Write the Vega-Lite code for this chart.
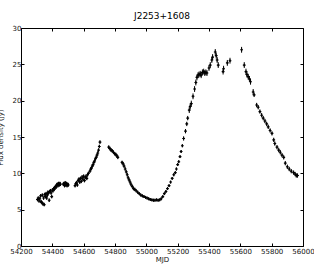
{
  "$schema": "https://vega.github.io/schema/vega-lite/v6.json",
  "autosize": "none",
  "width": 282,
  "height": 218,
  "padding": {"left": 21, "top": 28, "right": 11, "bottom": 28},
  "background": "white",
  "title": {"text": "J2253+1608", "fontSize": 9, "font": "DejaVu Sans", "fontWeight": "normal", "color": "black", "offset": 3},
  "config": {
    "view": {"stroke": "black", "strokeWidth": 1},
    "axis": {"labelFont": "DejaVu Sans", "labelFontSize": 7, "labelColor": "#111", "titleFont": "DejaVu Sans", "titleFontSize": 7, "titleFontWeight": "normal", "titleColor": "#111", "tickColor": "black", "tickSize": -3, "domain": false, "grid": false, "labelOverlap": false, "labelFlush": false, "labelBound": false, "format": "d"}
  },
  "data": {"values": [
    {"mjd": 54305, "flux": 6.4, "err": 0.25}, {"mjd": 54310, "flux": 6.6, "err": 0.25}, {"mjd": 54315, "flux": 6.2, "err": 0.25}, {"mjd": 54320, "flux": 6.5, "err": 0.25},
    {"mjd": 54325, "flux": 6.9, "err": 0.25}, {"mjd": 54328, "flux": 6.1, "err": 0.25}, {"mjd": 54332, "flux": 6.0, "err": 0.25}, {"mjd": 54336, "flux": 7.0, "err": 0.25},
    {"mjd": 54340, "flux": 5.8, "err": 0.25}, {"mjd": 54344, "flux": 6.6, "err": 0.25}, {"mjd": 54348, "flux": 5.7, "err": 0.25}, {"mjd": 54352, "flux": 7.1, "err": 0.25},
    {"mjd": 54356, "flux": 6.8, "err": 0.25}, {"mjd": 54360, "flux": 7.2, "err": 0.25}, {"mjd": 54364, "flux": 6.6, "err": 0.25}, {"mjd": 54368, "flux": 7.0, "err": 0.25},
    {"mjd": 54372, "flux": 7.4, "err": 0.25}, {"mjd": 54376, "flux": 7.3, "err": 0.25}, {"mjd": 54380, "flux": 6.3, "err": 0.25}, {"mjd": 54384, "flux": 7.5, "err": 0.25},
    {"mjd": 54388, "flux": 7.6, "err": 0.25}, {"mjd": 54392, "flux": 7.3, "err": 0.25}, {"mjd": 54396, "flux": 6.8, "err": 0.25}, {"mjd": 54400, "flux": 7.7, "err": 0.25},
    {"mjd": 54404, "flux": 7.6, "err": 0.25}, {"mjd": 54408, "flux": 7.9, "err": 0.25}, {"mjd": 54412, "flux": 7.8, "err": 0.25}, {"mjd": 54416, "flux": 8.0, "err": 0.25},
    {"mjd": 54420, "flux": 8.2, "err": 0.25}, {"mjd": 54424, "flux": 8.1, "err": 0.25}, {"mjd": 54428, "flux": 8.4, "err": 0.25}, {"mjd": 54432, "flux": 8.5, "err": 0.25},
    {"mjd": 54436, "flux": 8.3, "err": 0.25}, {"mjd": 54440, "flux": 8.6, "err": 0.25}, {"mjd": 54444, "flux": 8.4, "err": 0.25}, {"mjd": 54448, "flux": 8.6, "err": 0.25},
    {"mjd": 54452, "flux": 8.5, "err": 0.25}, {"mjd": 54470, "flux": 8.5, "err": 0.25}, {"mjd": 54474, "flux": 8.6, "err": 0.25}, {"mjd": 54478, "flux": 8.3, "err": 0.25},
    {"mjd": 54482, "flux": 8.7, "err": 0.25}, {"mjd": 54486, "flux": 8.4, "err": 0.25}, {"mjd": 54490, "flux": 8.6, "err": 0.25}, {"mjd": 54494, "flux": 8.3, "err": 0.25},
    {"mjd": 54498, "flux": 8.5, "err": 0.25}, {"mjd": 54502, "flux": 8.4, "err": 0.25}, {"mjd": 54545, "flux": 8.3, "err": 0.25}, {"mjd": 54550, "flux": 8.6, "err": 0.25},
    {"mjd": 54555, "flux": 8.7, "err": 0.25}, {"mjd": 54560, "flux": 8.4, "err": 0.25}, {"mjd": 54565, "flux": 9.0, "err": 0.25}, {"mjd": 54570, "flux": 9.2, "err": 0.25},
    {"mjd": 54575, "flux": 8.8, "err": 0.25}, {"mjd": 54580, "flux": 9.3, "err": 0.25}, {"mjd": 54585, "flux": 8.9, "err": 0.25}, {"mjd": 54590, "flux": 9.5, "err": 0.25},
    {"mjd": 54595, "flux": 9.2, "err": 0.25}, {"mjd": 54600, "flux": 9.6, "err": 0.25}, {"mjd": 54605, "flux": 9.0, "err": 0.25}, {"mjd": 54610, "flux": 9.4, "err": 0.25},
    {"mjd": 54615, "flux": 9.6, "err": 0.25}, {"mjd": 54620, "flux": 9.3, "err": 0.25}, {"mjd": 54625, "flux": 9.8, "err": 0.25}, {"mjd": 54630, "flux": 10.0, "err": 0.25},
    {"mjd": 54640, "flux": 10.3, "err": 0.25}, {"mjd": 54645, "flux": 10.6, "err": 0.25}, {"mjd": 54650, "flux": 10.7, "err": 0.25}, {"mjd": 54655, "flux": 11.0, "err": 0.25},
    {"mjd": 54660, "flux": 11.2, "err": 0.25}, {"mjd": 54665, "flux": 11.5, "err": 0.25}, {"mjd": 54670, "flux": 11.7, "err": 0.25}, {"mjd": 54675, "flux": 12.0, "err": 0.25},
    {"mjd": 54680, "flux": 12.2, "err": 0.25}, {"mjd": 54685, "flux": 12.5, "err": 0.25}, {"mjd": 54690, "flux": 12.8, "err": 0.25}, {"mjd": 54695, "flux": 13.2, "err": 0.25},
    {"mjd": 54700, "flux": 13.7, "err": 0.25}, {"mjd": 54704, "flux": 14.3, "err": 0.25},
    {"mjd": 54760, "flux": 13.6, "err": 0.25}, {"mjd": 54768, "flux": 13.4, "err": 0.25}, {"mjd": 54775, "flux": 13.2, "err": 0.25}, {"mjd": 54782, "flux": 13.1, "err": 0.25},
    {"mjd": 54790, "flux": 12.9, "err": 0.25}, {"mjd": 54798, "flux": 12.7, "err": 0.25}, {"mjd": 54805, "flux": 12.6, "err": 0.25}, {"mjd": 54812, "flux": 12.4, "err": 0.25},
    {"mjd": 54818, "flux": 12.2, "err": 0.25}, {"mjd": 54845, "flux": 11.5, "err": 0.25}, {"mjd": 54852, "flux": 11.3, "err": 0.25}, {"mjd": 54858, "flux": 11.0, "err": 0.25},
    {"mjd": 54865, "flux": 10.6, "err": 0.25}, {"mjd": 54872, "flux": 10.2, "err": 0.25}, {"mjd": 54878, "flux": 9.8, "err": 0.25}, {"mjd": 54884, "flux": 9.4, "err": 0.25},
    {"mjd": 54890, "flux": 9.1, "err": 0.25}, {"mjd": 54896, "flux": 8.8, "err": 0.25}, {"mjd": 54902, "flux": 8.5, "err": 0.25}, {"mjd": 54910, "flux": 8.2, "err": 0.25},
    {"mjd": 54918, "flux": 7.9, "err": 0.25}, {"mjd": 54926, "flux": 7.8, "err": 0.25}, {"mjd": 54935, "flux": 7.6, "err": 0.2}, {"mjd": 54945, "flux": 7.4, "err": 0.2},
    {"mjd": 54955, "flux": 7.2, "err": 0.2}, {"mjd": 54965, "flux": 7.0, "err": 0.2}, {"mjd": 54975, "flux": 6.9, "err": 0.2}, {"mjd": 54985, "flux": 6.8, "err": 0.2},
    {"mjd": 54995, "flux": 6.7, "err": 0.2}, {"mjd": 55005, "flux": 6.6, "err": 0.2}, {"mjd": 55015, "flux": 6.5, "err": 0.2}, {"mjd": 55025, "flux": 6.4, "err": 0.2},
    {"mjd": 55035, "flux": 6.35, "err": 0.2}, {"mjd": 55045, "flux": 6.3, "err": 0.2}, {"mjd": 55055, "flux": 6.3, "err": 0.2}, {"mjd": 55065, "flux": 6.35, "err": 0.2},
    {"mjd": 55075, "flux": 6.3, "err": 0.2}, {"mjd": 55085, "flux": 6.35, "err": 0.2}, {"mjd": 55095, "flux": 6.5, "err": 0.2}, {"mjd": 55105, "flux": 6.8, "err": 0.2},
    {"mjd": 55115, "flux": 7.2, "err": 0.2}, {"mjd": 55125, "flux": 7.5, "err": 0.2}, {"mjd": 55135, "flux": 7.9, "err": 0.2}, {"mjd": 55145, "flux": 8.3, "err": 0.2},
    {"mjd": 55155, "flux": 8.8, "err": 0.2}, {"mjd": 55165, "flux": 9.3, "err": 0.2}, {"mjd": 55175, "flux": 9.8, "err": 0.2}, {"mjd": 55185, "flux": 10.1, "err": 0.2},
    {"mjd": 55192, "flux": 10.6, "err": 0.2}, {"mjd": 55200, "flux": 11.2, "err": 0.2}, {"mjd": 55207, "flux": 11.6, "err": 0.2}, {"mjd": 55215, "flux": 12.3, "err": 0.2},
    {"mjd": 55222, "flux": 13.0, "err": 0.2}, {"mjd": 55230, "flux": 13.8, "err": 0.2}, {"mjd": 55238, "flux": 14.8, "err": 0.3}, {"mjd": 55250, "flux": 15.8, "err": 0.3},
    {"mjd": 55258, "flux": 16.8, "err": 0.3}, {"mjd": 55264, "flux": 17.6, "err": 0.3}, {"mjd": 55274, "flux": 18.7, "err": 0.4}, {"mjd": 55280, "flux": 19.2, "err": 0.4},
    {"mjd": 55287, "flux": 19.6, "err": 0.4}, {"mjd": 55298, "flux": 20.6, "err": 0.4}, {"mjd": 55308, "flux": 21.6, "err": 0.4}, {"mjd": 55316, "flux": 22.5, "err": 0.4},
    {"mjd": 55323, "flux": 23.2, "err": 0.4}, {"mjd": 55330, "flux": 23.5, "err": 0.4}, {"mjd": 55336, "flux": 23.6, "err": 0.4}, {"mjd": 55344, "flux": 23.7, "err": 0.4},
    {"mjd": 55350, "flux": 23.5, "err": 0.4}, {"mjd": 55358, "flux": 23.9, "err": 0.4}, {"mjd": 55366, "flux": 24.0, "err": 0.4}, {"mjd": 55373, "flux": 23.8, "err": 0.4},
    {"mjd": 55380, "flux": 23.9, "err": 0.4}, {"mjd": 55387, "flux": 23.8, "err": 0.4}, {"mjd": 55400, "flux": 24.5, "err": 0.4}, {"mjd": 55408, "flux": 24.9, "err": 0.4},
    {"mjd": 55418, "flux": 25.6, "err": 0.4}, {"mjd": 55423, "flux": 26.0, "err": 0.4}, {"mjd": 55440, "flux": 26.7, "err": 0.4}, {"mjd": 55446, "flux": 26.2, "err": 0.4},
    {"mjd": 55452, "flux": 25.6, "err": 0.4}, {"mjd": 55459, "flux": 24.9, "err": 0.4}, {"mjd": 55490, "flux": 24.0, "err": 0.4}, {"mjd": 55493, "flux": 24.4, "err": 0.4},
    {"mjd": 55517, "flux": 25.2, "err": 0.4}, {"mjd": 55534, "flux": 25.5, "err": 0.4}, {"mjd": 55608, "flux": 27.0, "err": 0.4}, {"mjd": 55625, "flux": 24.9, "err": 0.4},
    {"mjd": 55636, "flux": 24.0, "err": 0.4}, {"mjd": 55642, "flux": 23.6, "err": 0.4}, {"mjd": 55650, "flux": 23.3, "err": 0.4}, {"mjd": 55658, "flux": 23.0, "err": 0.4},
    {"mjd": 55665, "flux": 22.6, "err": 0.4}, {"mjd": 55682, "flux": 21.2, "err": 0.4}, {"mjd": 55688, "flux": 20.8, "err": 0.3}, {"mjd": 55704, "flux": 19.4, "err": 0.3},
    {"mjd": 55714, "flux": 19.1, "err": 0.3}, {"mjd": 55725, "flux": 18.5, "err": 0.3}, {"mjd": 55736, "flux": 18.0, "err": 0.3}, {"mjd": 55746, "flux": 17.6, "err": 0.3},
    {"mjd": 55757, "flux": 17.2, "err": 0.3}, {"mjd": 55768, "flux": 16.8, "err": 0.3}, {"mjd": 55778, "flux": 16.4, "err": 0.3}, {"mjd": 55790, "flux": 15.9, "err": 0.3},
    {"mjd": 55802, "flux": 15.5, "err": 0.3}, {"mjd": 55813, "flux": 14.6, "err": 0.3}, {"mjd": 55820, "flux": 14.1, "err": 0.3}, {"mjd": 55834, "flux": 13.6, "err": 0.3},
    {"mjd": 55845, "flux": 13.2, "err": 0.3}, {"mjd": 55855, "flux": 12.9, "err": 0.3}, {"mjd": 55866, "flux": 12.5, "err": 0.3}, {"mjd": 55877, "flux": 12.2, "err": 0.3},
    {"mjd": 55887, "flux": 11.4, "err": 0.3}, {"mjd": 55900, "flux": 10.9, "err": 0.3}, {"mjd": 55912, "flux": 10.6, "err": 0.3}, {"mjd": 55925, "flux": 10.3, "err": 0.3},
    {"mjd": 55940, "flux": 10.1, "err": 0.3}, {"mjd": 55950, "flux": 9.9, "err": 0.3}, {"mjd": 55957, "flux": 9.7, "err": 0.3}, {"mjd": 55965, "flux": 9.7, "err": 0.3}
  ]},
  "layer": [
    {
      "mark": {"type": "errorbar", "ticks": false, "color": "black", "thickness": 1},
      "encoding": {
        "x": {"field": "mjd", "type": "quantitative", "scale": {"domain": [54200, 56000], "nice": false, "zero": false},
              "axis": {"orient": "top", "labels": false, "title": null, "values": [54200, 54400, 54600, 54800, 55000, 55200, 55400, 55600, 55800, 56000]}},
        "y": {"field": "flux", "type": "quantitative", "scale": {"domain": [0, 30], "nice": false},
              "axis": {"orient": "right", "labels": false, "title": null, "values": [0, 5, 10, 15, 20, 25, 30]}},
        "yError": {"field": "err"}
      }
    },
    {
      "mark": {"type": "point", "shape": "cross", "filled": true, "size": 8, "color": "black", "opacity": 1},
      "encoding": {
        "x": {"field": "mjd", "type": "quantitative",
              "axis": {"orient": "bottom", "title": "MJD", "values": [54200, 54400, 54600, 54800, 55000, 55200, 55400, 55600, 55800, 56000], "labelPadding": 4, "titlePadding": 1}},
        "y": {"field": "flux", "type": "quantitative",
              "axis": {"orient": "left", "title": "Flux density (Jy)", "values": [0, 5, 10, 15, 20, 25, 30], "labelPadding": 3, "titleX": -25, "titleBaseline": "top"}}
      }
    }
  ],
  "resolve": {"axis": {"x": "independent", "y": "independent"}}
}
